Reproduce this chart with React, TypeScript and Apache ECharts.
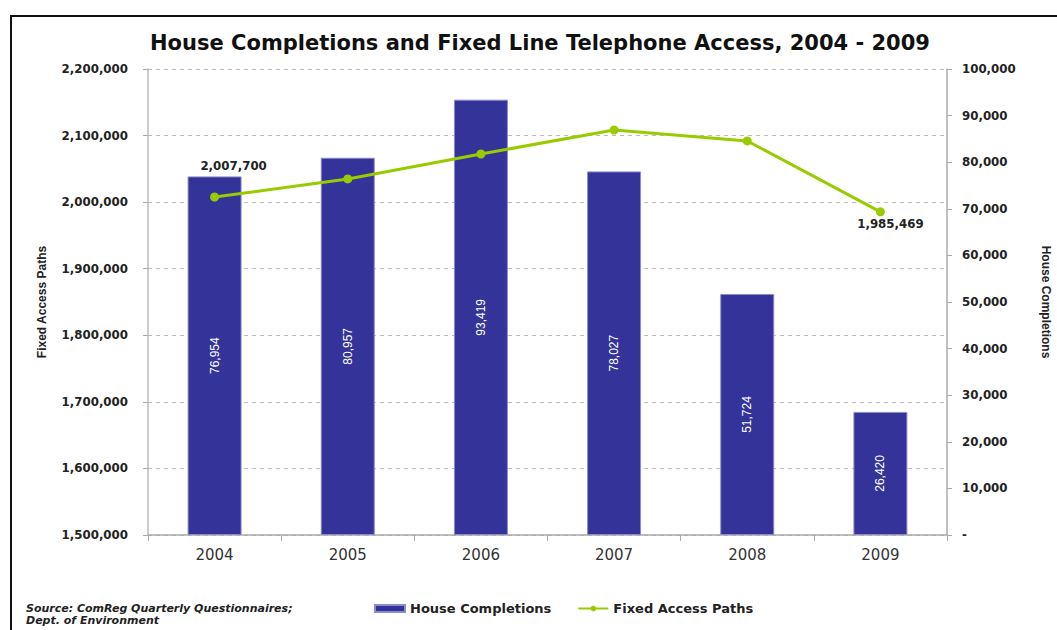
import React, { useEffect, useRef } from "react";
import * as echarts from "echarts";

const years = ["2004", "2005", "2006", "2007", "2008", "2009"];
const houseCompletions = [76954, 80957, 93419, 78027, 51724, 26420];
const fixedAccessPaths = [2007700, 2034800, 2072300, 2108400, 2091900, 1985469];
const labelledPoints = [0, 5];

const fmt = (v: number) => v.toLocaleString("en-US");
const WIDE = "DejaVu Sans, Verdana, sans-serif";
const ARIAL = "Liberation Sans, Arial, sans-serif";

export default function App() {
  const ref = useRef<HTMLDivElement>(null);
  useEffect(() => {
    document.body.style.margin = "0";
    const chart = echarts.init(ref.current!, null, { renderer: "svg" });
    const axisLabelStyle = {
      color: "#222",
      fontWeight: "bold" as const,
      fontSize: 11.8,
      fontFamily: WIDE,
    };
    const nameStyle = {
      fontSize: 12,
      fontWeight: "bold" as const,
      color: "#222",
      fontFamily: ARIAL,
    };
    chart.setOption({
      animation: false,
      backgroundColor: "#fff",
      title: {
        text: "House Completions and Fixed Line Telephone Access, 2004 - 2009",
        left: 535,
        textAlign: "center",
        top: 27,
        textStyle: {
          fontSize: 21,
          fontWeight: "bold",
          color: "#111",
          fontFamily: WIDE,
        },
      },
      legend: {
        left: 369,
        top: 597,
        itemWidth: 30,
        itemHeight: 7,
        itemGap: 26,
        textStyle: {
          fontSize: 13,
          fontWeight: "bold",
          color: "#222",
          fontFamily: WIDE,
        },
        data: [
          { name: "House Completions", icon: "rect" },
          { name: "Fixed Access Paths" },
        ],
      },
      grid: { left: 148, right: 110, top: 69, bottom: 95, outerBoundsMode: "none", containLabel: false },
      xAxis: {
        type: "category",
        data: years,
        boundaryGap: true,
        axisLine: { lineStyle: { color: "#aaa", width: 1.5 } },
        axisTick: { show: true, length: 6, lineStyle: { color: "#aaa" } },
        axisLabel: {
          color: "#333",
          fontSize: 15,
          margin: 12,
          fontFamily: WIDE,
        },
      },
      yAxis: [
        {
          type: "value",
          name: "Fixed Access Paths",
          nameLocation: "middle",
          nameGap: 100,
          nameRotate: 90,
          nameTextStyle: nameStyle,
          min: 1500000,
          max: 2200000,
          interval: 100000,
          axisLine: { show: true, lineStyle: { color: "#bbb", width: 1.5 } },
          axisTick: { show: true, length: 5, lineStyle: { color: "#aaa" } },
          axisLabel: { ...axisLabelStyle, margin: 20, formatter: (v: number) => fmt(v) },
          splitLine: { show: true, lineStyle: { color: "#bbb", type: [4, 4], width: 1.2 } },
        },
        {
          type: "value",
          name: "House Completions",
          nameLocation: "middle",
          nameGap: 93,
          nameRotate: -90,
          nameTextStyle: nameStyle,
          min: 0,
          max: 100000,
          interval: 10000,
          axisLine: { show: true, lineStyle: { color: "#aaa", width: 1.5 } },
          axisTick: { show: true, length: 5, lineStyle: { color: "#aaa" } },
          axisLabel: {
            ...axisLabelStyle,
            margin: 15,
            formatter: (v: number) => (v === 0 ? "-" : fmt(v)),
          },
          splitLine: { show: false },
        },
      ],
      series: [
        {
          name: "House Completions",
          type: "bar",
          yAxisIndex: 1,
          data: houseCompletions,
          barWidth: 54,
          itemStyle: { color: "#333399", borderColor: "#8c8cc8", borderWidth: 1 },
          label: {
            show: true,
            position: "inside",
            rotate: 90,
            color: "#fff",
            fontSize: 12,
            fontFamily: ARIAL,
            formatter: (p: any) => fmt(p.value),
          },
        },
        {
          name: "Fixed Access Paths",
          type: "line",
          yAxisIndex: 0,
          data: fixedAccessPaths.map((v, i) => ({
            value: v,
            label: {
              show: labelledPoints.includes(i),
              position: i === 0 ? "top" : "bottom",
              distance: i === 0 ? 21 : 2,
              offset: i === 0 ? [19, 0] : [10, 0],
              formatter: (p: any) => fmt(p.value),
              color: "#222",
              fontSize: 11.8,
              fontWeight: "bold",
              fontFamily: WIDE,
            },
          })),
          symbol: "circle",
          symbolSize: 9,
          lineStyle: { color: "#99cc00", width: 3 },
          itemStyle: { color: "#99cc00" },
        },
      ],
      graphic: [
        {
          type: "rect",
          shape: { x: 11, y: 16, width: 1100, height: 700 },
          style: { fill: "none", stroke: "#111", lineWidth: 2 },
          silent: true,
        },
        {
          type: "text",
          left: 26,
          top: 602,
          style: {
            text: "Source: ComReg Quarterly Questionnaires;\nDept. of Environment",
            fontSize: 11,
            fontWeight: "bold",
            fontStyle: "italic",
            lineHeight: 12,
            fill: "#222",
            fontFamily: WIDE,
          },
        },
      ],
    });
    return () => chart.dispose();
  }, []);
  return <div ref={ref} style={{ width: 1057, height: 630 }} />;
}
